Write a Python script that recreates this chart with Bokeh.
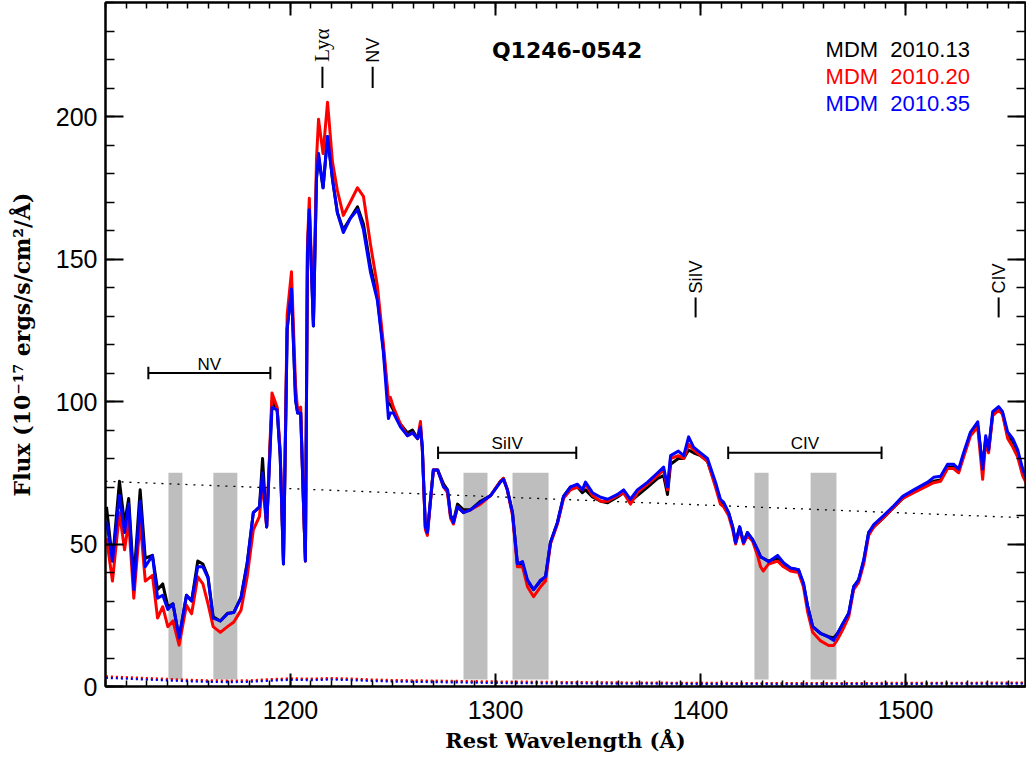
from math import pi
from bokeh.plotting import figure
from bokeh.models import Range1d, LinearAxis, SingleIntervalTicker, ColumnDataSource
from bokeh.core.properties import value
from bokeh.embed import file_html
from bokeh.resources import INLINE

# ---------------- data ----------------
wave = [1110.3, 1113.2, 1116.6, 1119.1, 1121.1, 1123.6, 1126.7, 1129.2, 1132.7, 1135.2,
        1137.7, 1140.2, 1142.7, 1145.7, 1149.3, 1151.8, 1154.8, 1157.3, 1159.8, 1162.3,
        1165.8, 1169.3, 1172.4, 1175.9, 1178.9, 1181.9, 1184.9, 1186.4, 1188.4, 1191.0,
        1193.5, 1195.0, 1196.6, 1198.4, 1200.5, 1202.5, 1203.5, 1205.0, 1206.5, 1207.3,
        1208.3, 1209.2, 1211.2, 1212.7, 1213.7, 1215.9, 1218.1, 1220.5, 1222.9, 1225.8,
        1229.2, 1232.7, 1235.6, 1239.0, 1242.4, 1245.3, 1247.8, 1248.7, 1250.2, 1253.7,
        1257.1, 1259.5, 1262.0, 1263.4, 1264.3, 1265.8, 1266.8, 1269.7, 1271.8, 1274.7,
        1276.6, 1278.1, 1279.5, 1281.5, 1284.4, 1287.8, 1292.7, 1297.6, 1302.4, 1303.9,
        1305.8, 1308.3, 1310.7, 1313.2, 1315.6, 1318.6, 1322.0, 1324.4, 1326.8, 1330.2,
        1333.2, 1336.6, 1340.0, 1342.4, 1343.9, 1347.3, 1351.3, 1354.7, 1359.5, 1362.5,
        1365.8, 1369.2, 1374.2, 1379.1, 1382.0, 1383.9, 1385.4, 1389.2, 1391.8, 1394.2,
        1396.6, 1400.0, 1403.4, 1407.3, 1409.7, 1411.3, 1413.7, 1415.7, 1417.1, 1419.1,
        1421.0, 1422.9, 1425.4, 1427.8, 1429.3, 1430.6, 1433.2, 1437.6, 1440.5, 1443.9,
        1447.8, 1450.2, 1452.3, 1454.7, 1458.6, 1462.5, 1464.9, 1466.8, 1469.4, 1472.3,
        1474.7, 1477.1, 1479.6, 1482.0, 1484.5, 1488.9, 1493.7, 1498.6, 1504.0, 1510.8,
        1513.7, 1517.1, 1520.5, 1523.4, 1525.9, 1528.3, 1531.7, 1535.2, 1537.6, 1539.1,
        1540.5, 1542.5, 1545.4, 1547.3, 1549.8, 1552.3, 1554.7, 1557.1, 1559.1]

flux_2010_13 = [63, 44, 72, 57, 66, 37, 69, 45, 46, 34,
                36, 28, 29, 17, 32, 30, 44, 43, 38.5, 24.5,
                23, 25.7, 26, 31.4, 43.4, 61, 63, 80, 56, 100,
                97.5, 81, 43, 125.5, 139.5, 100.5, 96, 96, 61, 44,
                152.3, 167.3, 126.5, 178.2, 186, 175, 193, 178, 166.2, 160.3,
                164.3, 168.3, 162.3, 147.5, 136.5, 118.5, 99, 99, 97, 92,
                89, 90, 87, 90, 84, 56, 54, 76, 76, 71,
                69, 60, 58, 64, 62, 62, 65, 67, 72, 73,
                69, 61, 43, 43, 37, 34, 37, 38.5, 50.5, 57.5,
                66.7, 70, 70, 68, 69, 66.5, 65, 64.5, 66.5, 68,
                65, 67, 70, 73, 74, 67.4, 78, 80, 80, 83,
                82, 81, 79, 71, 65, 64, 61, 56, 50.5, 56,
                50.5, 54, 51.5, 48, 45.5, 45, 44, 45, 43, 41.5,
                41, 36, 28, 21, 18.6, 17.5, 17, 18.6, 22, 25.7,
                35, 37.4, 44, 54, 56, 59, 62.5, 66, 68.5, 71,
                72, 72.5, 77, 77, 75.5, 81, 89, 91.5, 77, 87,
                83, 95.5, 97.5, 96, 88, 86, 82, 76, 72]

flux_2010_20 = [52, 37, 61, 48, 58, 31, 58, 37, 39, 24,
                28, 21, 23, 14.5, 28.5, 25.5, 38.5, 36, 29, 21,
                19, 21, 22.6, 26.8, 38.5, 55, 59.7, 72, 56, 103,
                98, 83, 44, 130.5, 145.5, 105.5, 97, 98, 61, 44,
                155.3, 171.3, 128.5, 185, 199, 187, 205, 184, 174, 165.3,
                170, 175, 172, 155.3, 140.5, 120.5, 100.5, 101.5, 98, 92,
                88, 89, 87, 93, 84, 55, 53, 76, 76, 70,
                68, 59, 57, 63, 61, 62, 64, 67, 72, 73,
                69, 60, 42, 42, 35, 31.5, 35, 37, 50, 57,
                66, 69, 70, 69, 71, 67, 65, 65, 67, 68,
                64, 68, 71, 74, 76, 69, 80, 81, 80, 85,
                83, 81, 79, 70, 64, 63, 60, 55, 50, 55,
                50, 53, 51, 46, 42, 40.5, 43, 44, 42, 40.5,
                40, 35, 26, 19, 16, 14.4, 14.4, 16.5, 20, 24.5,
                34, 36.5, 43, 53, 56, 59, 62.5, 66, 68, 70.5,
                71.5, 72, 76.5, 76.5, 75, 80.5, 88, 91, 72.7, 86,
                82, 95, 97, 95.5, 87, 84, 80.5, 74, 71]

flux_2010_35 = [58, 44, 67, 54, 64, 34, 65, 42, 46, 31,
                32, 27, 29, 17, 32, 30, 42, 42, 38, 24,
                23, 25.5, 26, 31, 43, 61, 63, 75, 56, 98,
                97, 81, 43, 125.5, 139.5, 100.5, 96, 96, 61, 44,
                152.3, 167.3, 126.5, 178.2, 187, 175, 193, 178, 166.2, 159.3,
                164.3, 167.3, 160.3, 145.5, 135.5, 117.5, 94, 96, 96, 91,
                88, 89, 87, 91, 84, 56, 54, 76, 76, 70,
                69, 60, 57.5, 63, 61, 62, 64.6, 67, 71.7, 72.7,
                69, 61, 43, 43.8, 37.4, 34, 37.4, 38.5, 50.5, 57.5,
                66.7, 70, 71, 69, 71.7, 68, 66.4, 65.7, 67.4, 69,
                65.7, 69, 71.7, 75, 77, 70, 81, 82.6, 81, 87.6,
                84, 82, 80, 71.7, 65.7, 64.6, 61, 56, 50.5, 56,
                50.5, 54, 51.5, 48, 45.5, 45, 43.8, 46, 43.4, 41.6,
                41, 36.3, 28, 21, 18.6, 17.3, 16.2, 18.6, 22, 25.7,
                35, 37.4, 44.5, 54, 56.8, 59.7, 63, 66.7, 69, 71.7,
                73.4, 73.8, 78, 78, 76.3, 82, 89.3, 92.9, 76.3, 88,
                83, 96.4, 98.2, 96.4, 89.3, 87, 83, 76.3, 72.7]

err_wave = [1110, 1120, 1130, 1140, 1150, 1160, 1170, 1180, 1190, 1200, 1210, 1220,
            1230, 1240, 1250, 1260, 1280, 1300, 1320, 1350, 1400, 1450, 1500, 1558.5]
err_2010_13 = [3.3, 3.0, 2.7, 2.4, 2.1, 1.9, 1.8, 1.9, 2.3, 2.6, 2.5, 2.7,
               2.5, 2.2, 2.0, 1.9, 1.7, 1.5, 1.4, 1.3, 1.1, 1.0, 1.1, 1.2]
err_2010_20 = [3.6, 3.3, 3.0, 2.7, 2.4, 2.2, 2.1, 2.2, 2.6, 2.9, 2.8, 3.0,
               2.8, 2.5, 2.3, 2.2, 2.0, 1.8, 1.7, 1.5, 1.3, 1.2, 1.3, 1.4]
err_2010_35 = [3.0, 2.7, 2.4, 2.1, 1.8, 1.6, 1.5, 1.6, 2.0, 2.3, 2.2, 2.4,
               2.2, 1.9, 1.7, 1.6, 1.4, 1.2, 1.1, 1.0, 0.9, 0.8, 0.9, 1.0]

cont_wave = [1109.8, 1558.5]
cont_flux = [72.0, 59.2]

band_left = [1140.5, 1162.4, 1284.4, 1308.3, 1426.3, 1453.7]
band_right = [1147.3, 1174.1, 1296.1, 1325.9, 1433.2, 1466.3]
band_bottom = 2.5
band_top = 75

bracket_label = ["NV", "SiIV", "CIV"]
bracket_start = [1130.7, 1272.0, 1413.5]
bracket_end = [1190.2, 1339.4, 1488.3]
bracket_flux = [110, 82, 82]

line_label = ["Lyα", "NV", "SiIV", "CIV"]
line_wave = [1215.6, 1240.1, 1397.6, 1545.4]
line_low = [210.0, 210.0, 129.5, 129.5]
line_high = [217.5, 217.5, 136.5, 136.5]

series_names = ["MDM\u00a0\u00a02010.13", "MDM\u00a0\u00a02010.20", "MDM\u00a0\u00a02010.35"]
series_colors = ["#000000", "#ff0000", "#0000ff"]
title_text = "Q1246-0542"

# ---------------- figure ----------------
p = figure(width=1026, height=759, output_backend="svg", toolbar_location=None,
           x_range=Range1d(1109.8, 1558.5), y_range=Range1d(0, 240),
           min_border_left=105, min_border_right=1, min_border_top=2, min_border_bottom=73,
           background_fill_color="white", border_fill_color="white")
p.grid.visible = False
p.outline_line_color = "black"
p.outline_line_width = 2

xt = SingleIntervalTicker(interval=100, num_minor_ticks=10)
yt = SingleIntervalTicker(interval=50, num_minor_ticks=5)
p.xaxis.ticker = xt
p.yaxis.ticker = yt

p.add_layout(LinearAxis(ticker=yt), "right")
p.add_layout(LinearAxis(ticker=xt), "above")

for ax in p.xaxis + p.yaxis:
    ax.axis_line_width = 2
    ax.major_tick_line_width = 2
    ax.minor_tick_line_width = 1.5
    ax.major_tick_out = 0
    ax.minor_tick_out = 0
    ax.major_label_text_font = "Liberation Sans"
    ax.major_label_text_font_size = "25px"
    ax.major_label_text_color = "black"
    ax.axis_label_text_color = "black"

for ax in p.xaxis:
    ax.major_tick_in = 13
    ax.minor_tick_in = 6
for ax in p.yaxis:
    ax.major_tick_in = 18
    ax.minor_tick_in = 9

bottom = p.below[0]
left = p.left[0]
right = p.right[0]
top = p.above[0]
for ax in (right, top):
    ax.major_label_text_font_size = "1px"
    ax.major_label_text_color = None
    ax.major_label_standoff = 0
    ax.axis_label = None

bottom.major_label_standoff = 14
left.major_label_standoff = 8
bottom.axis_label = "Rest Wavelength (Å)"
left.axis_label = "Flux (10⁻¹⁷ ergs/s/cm²/Å)"
bottom.axis_label_text_font = "DejaVu Serif"
left.axis_label_text_font = "DejaVu Serif"
bottom.axis_label_text_font_style = "bold"
left.axis_label_text_font_style = "bold"
bottom.axis_label_text_font_size = "21px"
left.axis_label_text_font_size = "22px"
bottom.axis_label_standoff = 6
left.axis_label_standoff = 18

# shaded bands
p.quad(left=band_left, right=band_right, bottom=band_bottom, top=band_top,
       fill_color="#bebebe", line_color=None)

# continuum
p.line(cont_wave, cont_flux, line_color="black", line_width=1.3, line_dash="2 6")

# error spectra
for e, c in zip([err_2010_13, err_2010_20, err_2010_35], series_colors):
    p.line(err_wave, e, line_color=c, line_width=2, line_dash="2 3")

# spectra
src = ColumnDataSource(dict(wave=wave, f13=flux_2010_13, f20=flux_2010_20, f35=flux_2010_35))
for col, c in zip(["f13", "f20", "f35"], series_colors):
    p.line("wave", col, source=src, line_color=c, line_width=3, line_join="round")

# brackets
cap = 2.2
p.segment(x0=bracket_start, y0=bracket_flux, x1=bracket_end, y1=bracket_flux,
          line_color="black", line_width=2)
p.segment(x0=bracket_start, y0=[b - cap for b in bracket_flux],
          x1=bracket_start, y1=[b + cap for b in bracket_flux], line_color="black", line_width=2)
p.segment(x0=bracket_end, y0=[b - cap for b in bracket_flux],
          x1=bracket_end, y1=[b + cap for b in bracket_flux], line_color="black", line_width=2)
p.text(x=[(a + b) / 2 for a, b in zip(bracket_start, bracket_end)], y=bracket_flux,
       text=bracket_label, text_align="center", text_baseline="alphabetic", y_offset=-9,
       text_font=value("Liberation Sans"), text_font_size="17px", text_color="black")

# emission line markers
p.segment(x0=line_wave, y0=line_low, x1=line_wave, y1=line_high, line_color="black", line_width=2)
p.text(x=line_wave[:1], y=line_high[:1], text=line_label[:1], angle=pi / 2,
       text_align="left", text_baseline="middle", y_offset=-5,
       text_font=value("Liberation Serif"), text_font_size="21px", text_color="black")
p.text(x=line_wave[1:], y=line_high[1:], text=line_label[1:], angle=pi / 2,
       text_align="left", text_baseline="middle", y_offset=-4,
       text_font=value("Liberation Sans"), text_font_size="18px", text_color="black")

# title
p.text(x=[1334.9], y=[223.2], text=[title_text], text_align="center", text_baseline="middle",
       text_font=value("DejaVu Sans"), text_font_style="bold", text_font_size="22px",
       text_color="black")

# legend text
legend_x = 1461.0
legend_y = [223.5, 214.0, 204.5]
p.text(x=[legend_x] * 3, y=legend_y, text=series_names, text_color=series_colors,
       text_align="left", text_baseline="middle",
       text_font=value("Liberation Sans"), text_font_size="22px")

open("out.html", "w").write(file_html(p, INLINE))
